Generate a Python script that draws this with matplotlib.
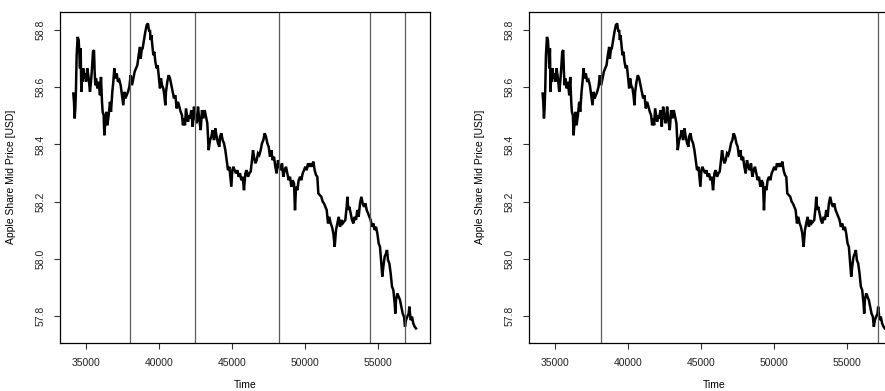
import matplotlib
matplotlib.use("Agg")
import matplotlib.pyplot as plt

plt.rcParams["font.family"] = ["Liberation Sans", "DejaVu Sans"]
plt.rcParams["font.size"] = 7.5

# Apple mid price over the trading day (seconds after midnight)
time_s = [
    34132, 34178, 34224, 34269, 34315, 34361, 34429, 34497, 34543, 34589,
    34634, 34680, 34726, 34771, 34817, 34863, 34931, 35000, 35091, 35182,
    35274, 35342, 35411, 35479, 35548, 35593, 35639, 35685, 35776, 35867,
    35959, 36027, 36096, 36141, 36210, 36255, 36324, 36392, 36461, 36552,
    36644, 36712, 36803, 36872, 36940, 37009, 37100, 37191, 37283, 37374,
    37465, 37557, 37625, 37694, 37785, 37876, 37968, 38059, 38150, 38242,
    38333, 38424, 38516, 38607, 38698, 38744, 38812, 38881, 38972, 39063,
    39155, 39246, 39292, 39337, 39383, 39429, 39475, 39543, 39611, 39680,
    39748, 39840, 39908, 39977, 40068, 40136, 40205, 40296, 40365, 40433,
    40479, 40570, 40662, 40753, 40844, 40936, 41027, 41118, 41210, 41301,
    41392, 41484, 41575, 41643, 41712, 41780, 41849, 41917, 41986, 42077,
    42123, 42214, 42306, 42397, 42488, 42580, 42671, 42762, 42854, 42945,
    43036, 43128, 43219, 43310, 43401, 43493, 43584, 43675, 43767, 43858,
    43949, 44041, 44132, 44178, 44269, 44360, 44452, 44543, 44634, 44726,
    44817, 44885, 44954, 45022, 45091, 45182, 45274, 45365, 45456, 45548,
    45639, 45730, 45821, 45913, 46004, 46095, 46187, 46278, 46369, 46438,
    46506, 46598, 46689, 46780, 46872, 46963, 47054, 47146, 47237, 47328,
    47420, 47511, 47602, 47694, 47785, 47876, 47967, 48059, 48150, 48241,
    48333, 48424, 48515, 48607, 48698, 48789, 48881, 48972, 49063, 49155,
    49246, 49314, 49383, 49474, 49566, 49657, 49748, 49840, 49931, 50022,
    50114, 50205, 50296, 50387, 50479, 50570, 50661, 50753, 50844, 50913,
    51118, 51210, 51301, 51392, 51484, 51575, 51666, 51758, 51849, 51940,
    52032, 52123, 52214, 52305, 52397, 52488, 52579, 52671, 52762, 52853,
    52899, 52968, 53036, 53127, 53219, 53310, 53401, 53493, 53584, 53675,
    53767, 53858, 53949, 54041, 54132, 54223, 54315, 54406, 54497, 54588,
    54680, 54771, 54862, 54954, 55045, 55136, 55228, 55296, 55365, 55456,
    55547, 55616, 55684, 55776, 55867, 55958, 56050, 56141, 56187, 56232,
    56324, 56415, 56506, 56598, 56689, 56780, 56849, 56917, 57008, 57100,
    57145, 57237, 57328, 57419, 57511, 57602,
]
mid_price = [
    58.578, 58.549, 58.491, 58.526, 58.596, 58.712, 58.776, 58.765, 58.724, 58.666,
    58.736, 58.584, 58.654, 58.619, 58.666, 58.631, 58.648, 58.619, 58.666, 58.631,
    58.584, 58.619, 58.666, 58.724, 58.730, 58.654, 58.607, 58.631, 58.596, 58.619,
    58.572, 58.636, 58.549, 58.514, 58.502, 58.432, 58.479, 58.514, 58.467, 58.502,
    58.549, 58.514, 58.584, 58.619, 58.666, 58.631, 58.648, 58.619, 58.625, 58.607,
    58.572, 58.537, 58.584, 58.561, 58.572, 58.584, 58.601, 58.642, 58.607, 58.631,
    58.654, 58.666, 58.677, 58.712, 58.741, 58.700, 58.730, 58.736, 58.765, 58.794,
    58.817, 58.823, 58.805, 58.794, 58.800, 58.765, 58.782, 58.747, 58.712, 58.724,
    58.689, 58.666, 58.677, 58.642, 58.596, 58.631, 58.607, 58.596, 58.572, 58.537,
    58.584, 58.619, 58.642, 58.631, 58.607, 58.584, 58.561, 58.572, 58.526, 58.549,
    58.532, 58.514, 58.502, 58.467, 58.491, 58.467, 58.526, 58.502, 58.479, 58.502,
    58.491, 58.520, 58.462, 58.532, 58.497, 58.474, 58.532, 58.485, 58.450, 58.520,
    58.491, 58.520, 58.497, 58.474, 58.380, 58.415, 58.427, 58.450, 58.415, 58.456,
    58.427, 58.404, 58.392, 58.427, 58.439, 58.415, 58.404, 58.380, 58.345, 58.310,
    58.322, 58.287, 58.252, 58.310, 58.322, 58.310, 58.299, 58.310, 58.287, 58.299,
    58.275, 58.287, 58.240, 58.299, 58.310, 58.287, 58.299, 58.305, 58.345, 58.380,
    58.357, 58.334, 58.345, 58.369, 58.363, 58.380, 58.404, 58.415, 58.439, 58.427,
    58.404, 58.392, 58.357, 58.380, 58.345, 58.357, 58.322, 58.299, 58.345, 58.322,
    58.310, 58.334, 58.287, 58.310, 58.322, 58.299, 58.275, 58.287, 58.252, 58.275,
    58.264, 58.170, 58.252, 58.240, 58.275, 58.287, 58.275, 58.299, 58.310, 58.322,
    58.310, 58.334, 58.322, 58.334, 58.322, 58.340, 58.310, 58.293, 58.287, 58.229,
    58.217, 58.200, 58.194, 58.182, 58.171, 58.124, 58.147, 58.124, 58.112, 58.089,
    58.042, 58.101, 58.124, 58.147, 58.112, 58.136, 58.124, 58.130, 58.136, 58.182,
    58.217, 58.171, 58.182, 58.159, 58.136, 58.124, 58.147, 58.136, 58.171, 58.147,
    58.194, 58.217, 58.194, 58.182, 58.194, 58.171, 58.159, 58.147, 58.136, 58.112,
    58.124, 58.101, 58.112, 58.089, 58.054, 58.042, 57.984, 57.938, 57.973, 58.008,
    58.019, 58.031, 57.996, 57.984, 57.949, 57.903, 57.891, 57.844, 57.809, 57.856,
    57.879, 57.868, 57.856, 57.833, 57.809, 57.798, 57.763, 57.786, 57.798, 57.809,
    57.833, 57.786, 57.798, 57.774, 57.763, 57.757,
]

# detected change points, one set per panel
breaks_left = [38014, 42466, 48210, 54452, 56849]
breaks_right = [38134, 57160]

x_ticks = [35000, 40000, 45000, 50000, 55000]
y_ticks = [57.8, 58.0, 58.2, 58.4, 58.6, 58.8]

W, H = 885, 391
fig = plt.figure(figsize=(W / 100, H / 100), dpi=100)
ax_l = fig.add_axes([60 / W, (H - 342.7) / H, 370 / W, 331 / H])
ax_r = fig.add_axes([529.3 / W, (H - 342.7) / H, 369.5 / W, 331 / H])

for ax, breaks in ((ax_l, breaks_left), (ax_r, breaks_right)):
    ax.plot(time_s, mid_price, color="black", lw=1.8, solid_joinstyle="miter")
    for b in breaks:
        ax.axvline(b, color="#5a5a5a", lw=0.9)
    ax.set_xlim(33220, 58560)
    ax.set_ylim(57.707, 58.864)
    ax.set_xticks(x_ticks)
    ax.set_xticklabels([str(t) for t in x_ticks])
    ax.set_yticks(y_ticks)
    ax.set_yticklabels([f"{v:.1f}" for v in y_ticks], rotation=90, va="center")
    ax.tick_params(direction="out", length=4.2, width=0.8, color="#333333",
                   pad=6.5, labelsize=7.5, labelcolor="#222222")
    for sp in ax.spines.values():
        sp.set_linewidth(0.9)
        sp.set_color("black")
    ax.set_xlabel("Time", fontsize=7.5)
    ax.xaxis.set_label_coords(0.5, -0.113)
    ax.set_ylabel("Apple Share Mid Price [USD]", fontsize=7.5)
    ax.yaxis.set_label_coords(-0.119, 0.5)

fig.savefig("out.png", dpi=100)
